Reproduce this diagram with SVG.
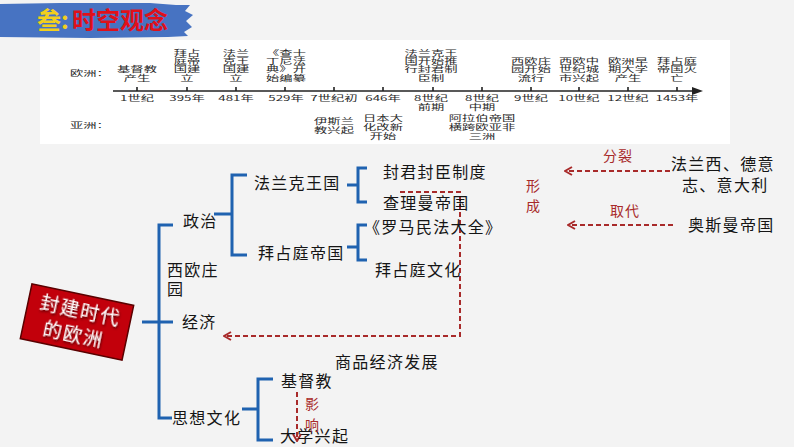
<svg xmlns="http://www.w3.org/2000/svg" width="794" height="447" viewBox="0 0 794 447">
<defs>
<style>
.tl{font-family:"Noto Sans CJK SC","Noto Sans",sans-serif;font-size:7.6px;fill:#2a2a2a;text-anchor:middle}
.tls{font-family:"Noto Sans CJK SC","Noto Sans",sans-serif;font-size:7.6px;fill:#2a2a2a}
.t{font-family:"Noto Sans CJK SC","Noto Sans",sans-serif;font-size:16px;fill:#151515;letter-spacing:1.3px}
.r{font-family:"Noto Sans CJK SC","Noto Sans",sans-serif;font-size:14px;fill:#a82a2a;letter-spacing:1px}
.br{fill:none;stroke:#1f62b0;stroke-width:3}
.dash{fill:none;stroke:#a82a2a;stroke-width:2;stroke-dasharray:5 3}
.ax{stroke:#222;stroke-width:1.6;fill:none}
</style>
<marker id="ah" viewBox="0 0 10 10" refX="9" refY="5" markerWidth="10" markerHeight="10" markerUnits="userSpaceOnUse" orient="auto">
<path d="M2 1 L9 5 L2 9" fill="none" stroke="#a82a2a" stroke-width="2"/>
</marker>
<filter id="sh" x="-20%" y="-20%" width="140%" height="140%">
<feDropShadow dx="1" dy="1.5" stdDeviation="0.8" flood-color="#300" flood-opacity="0.8"/>
</filter>
</defs>
<rect width="794" height="447" fill="#f3f3f3"/>
<rect x="40" y="40" width="690" height="104" fill="#ffffff"/>

<g id="banner">
<path d="M0 4 L60 3 L150 3 L176 5 L190 5 L185 11 L193 15 L186 21 L192 27 L184 32 L188 36 L168 37 L90 38 L0 37 Z" fill="#4773c2"/>
<text x="37" y="29" font-family="Noto Sans CJK SC,sans-serif" font-size="24" font-weight="bold" fill="#f2cf1c">叁:</text>
<text x="72" y="29" font-family="Noto Sans CJK SC,sans-serif" font-size="24" font-weight="bold" fill="#e0101a">时空观念</text>
</g>

<g id="timeline">
<line class="ax" x1="113" y1="91" x2="698" y2="91"/>
<polygon points="692,87 703,91 692,95" fill="#222"/>
<path class="ax" d="M137 87V91M187 87V91M236 87V91M285 87V91M334 87V91M383 87V91M433 87V91M482 87V91M531 87V91M579 87V91M628 87V91M677 87V91"/>
<g transform="translate(70 0) scale(1.75 1)"><text class="tls" x="0" y="76">欧洲：</text><text class="tls" x="0" y="128">亚洲：</text></g>
<g transform="translate(137 0) scale(1.75 1)"><text class="tl" y="72.2">基督教<tspan x="0" dy="8.4">产生</tspan></text><text class="tl" y="101">1世纪</text></g>
<g transform="translate(187 0) scale(1.75 1)"><text class="tl" y="55.6">拜占<tspan x="0" dy="8.3">庭帝</tspan><tspan x="0" dy="8.3">国建</tspan><tspan x="0" dy="8.4">立</tspan></text><text class="tl" y="101">395年</text></g>
<g transform="translate(236 0) scale(1.75 1)"><text class="tl" y="55.6">法兰<tspan x="0" dy="8.3">克王</tspan><tspan x="0" dy="8.3">国建</tspan><tspan x="0" dy="8.4">立</tspan></text><text class="tl" y="101">481年</text></g>
<g transform="translate(286 0) scale(1.75 1)"><text class="tl" y="55.6">《查士<tspan x="0" dy="8.3">丁尼法</tspan><tspan x="0" dy="8.3">典》开</tspan><tspan x="0" dy="8.4">始编纂</tspan></text><text class="tl" y="101">529年</text></g>
<g transform="translate(334 0) scale(1.75 1)"><text class="tl" y="101">7世纪初</text><text class="tl" y="124">伊斯兰<tspan x="0" dy="9">教兴起</tspan></text></g>
<g transform="translate(383 0) scale(1.75 1)"><text class="tl" y="101">646年</text><text class="tl" y="121">日本大<tspan x="0" dy="9">化改新</tspan><tspan x="0" dy="9">开始</tspan></text></g>
<g transform="translate(431 0) scale(1.75 1)"><text class="tl" y="55.6">法兰克王<tspan x="0" dy="8.3">国开始推</tspan><tspan x="0" dy="8.3">行封君制</tspan><tspan x="0" dy="8.4">臣制</tspan></text><text class="tl" y="101">8世纪<tspan x="0" dy="9">前期</tspan></text></g>
<g transform="translate(482 0) scale(1.75 1)"><text class="tl" y="101">8世纪<tspan x="0" dy="9">中期</tspan></text><text class="tl" y="121">阿拉伯帝国<tspan x="0" dy="9">横跨欧亚非</tspan><tspan x="0" dy="9">三洲</tspan></text></g>
<g transform="translate(531 0) scale(1.75 1)"><text class="tl" y="63.9">西欧庄<tspan x="0" dy="8.3">园开始</tspan><tspan x="0" dy="8.4">流行</tspan></text><text class="tl" y="101">9世纪</text></g>
<g transform="translate(579 0) scale(1.75 1)"><text class="tl" y="63.9">西欧中<tspan x="0" dy="8.3">世纪城</tspan><tspan x="0" dy="8.4">市兴起</tspan></text><text class="tl" y="101">10世纪</text></g>
<g transform="translate(628 0) scale(1.75 1)"><text class="tl" y="63.9">欧洲早<tspan x="0" dy="8.3">期大学</tspan><tspan x="0" dy="8.4">产生</tspan></text><text class="tl" y="101">12世纪</text></g>
<g transform="translate(677 0) scale(1.75 1)"><text class="tl" y="63.9">拜占庭<tspan x="0" dy="8.3">帝国灭</tspan><tspan x="0" dy="8.4">亡</tspan></text><text class="tl" y="101">1453年</text></g>
</g>

<g id="connectors">
<path class="br" d="M142 322H173M173 225H159V418H172"/>
<path class="br" d="M214 214H232M247 175H232V255H247"/>
<path class="br" d="M347 185H358M367 168H358V202H367"/>
<path class="br" d="M347 247H358M367 225H358V260H367"/>
<path class="br" d="M242 409H258M273 379H258V440H273"/>
<path class="dash" d="M400 192H460V336H224" marker-end="url(#ah)"/>
<path class="dash" d="M670 171H565" marker-end="url(#ah)"/>
<path class="dash" d="M673 225H568" marker-end="url(#ah)"/>
<path class="dash" d="M297 392V441" marker-end="url(#ah)"/>
</g>

<g id="root" transform="translate(77 322) rotate(12)">
<rect x="-52" y="-28" width="104" height="56" fill="#c2000b" stroke="#5a0000" stroke-width="1.5"/>
<text x="1" y="-5.5" text-anchor="middle" font-family="Noto Sans CJK SC,sans-serif" font-size="19" letter-spacing="1.5" fill="#ffffff" filter="url(#sh)">封建时代<tspan x="-1" dy="25">的欧洲</tspan></text>
</g>

<g id="n-zhengzhi"><text class="t" x="183" y="227">政治</text></g>
<g id="n-falanke"><text class="t" x="254" y="189">法兰克王国</text></g>
<g id="n-baizhanting"><text class="t" x="258" y="259">拜占庭帝国</text></g>
<g id="n-fengjun"><text class="t" x="383" y="178">封君封臣制度</text></g>
<g id="n-chali"><text class="t" x="383" y="209">查理曼帝国</text></g>
<g id="n-luoma"><text class="t" x="364" y="233">《罗马民法大全》</text></g>
<g id="n-bzwh"><text class="t" x="375" y="276">拜占庭文化</text></g>
<g id="n-xiouzy"><text class="t" x="167" y="276">西欧庄<tspan x="167" dy="19">园</tspan></text></g>
<g id="n-jingji"><text class="t" x="182" y="328">经济</text></g>
<g id="n-shangpin"><text class="t" x="335" y="368">商品经济发展</text></g>
<g id="n-sixiang"><text class="t" x="172" y="424">思想文化</text></g>
<g id="n-jidu"><text class="t" x="281" y="387">基督教</text></g>
<g id="n-daxue"><text class="t" x="280" y="442">大学兴起</text></g>
<g id="n-faguo"><text class="t" x="671" y="170">法兰西、德意<tspan x="682" dy="21">志、意大利</tspan></text></g>
<g id="n-aosiman"><text class="t" x="688" y="231">奥斯曼帝国</text></g>
<g id="l-fenlie"><text class="r" x="603" y="161">分裂</text></g>
<g id="l-qudai"><text class="r" x="610" y="216">取代</text></g>
<g id="l-xingcheng"><text class="r" x="526" y="191">形<tspan x="526" dy="20">成</tspan></text></g>
<g id="l-yingxiang"><text class="r" x="305" y="409">影<tspan x="305" dy="21">响</tspan></text></g>
</svg>
